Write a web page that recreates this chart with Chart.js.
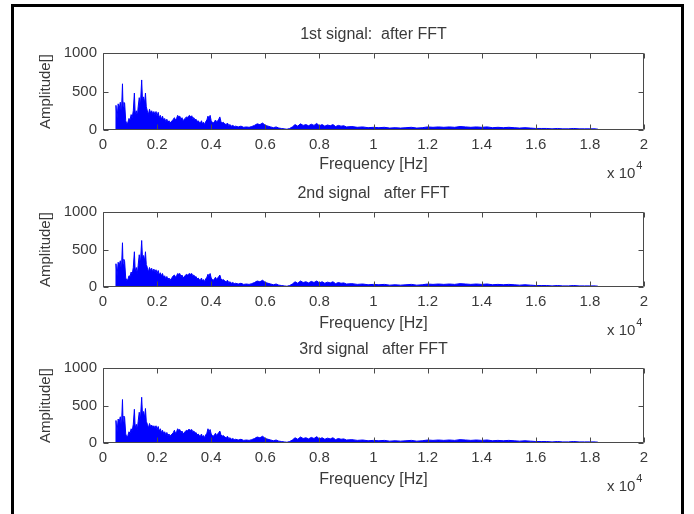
<!DOCTYPE html>
<html>
<head>
<meta charset="utf-8">
<script src="https://cdn.jsdelivr.net/npm/chart.js@4.4.1/dist/chart.umd.min.js"></script>
<style>
  html, body { margin: 0; padding: 0; background: #fff; }
  #wrap { position: relative; width: 694px; height: 514px; overflow: hidden; background: #fff; }
  #frame { position: absolute; left: 11px; top: 4px; width: 667px; height: 530px; border: 3px solid #000; }
  canvas { position: absolute; left: 0; }
</style>
</head>
<body>
<div id="wrap">
  <div id="frame"></div>
  <canvas id="c1" width="694" height="185" style="top:0px"></canvas>
  <canvas id="c2" width="694" height="185" style="top:159px"></canvas>
  <canvas id="c3" width="694" height="185" style="top:315px"></canvas>
</div>
<script>
// ---- data ----
const titles = ['1st signal:  after FFT', '2nd signal   after FFT', '3rd signal   after FFT'];
const xAxisTitle = 'Frequency [Hz]';
const yAxisTitle = 'Amplitude[]';
const xTickLabels = ['0','0.2','0.4','0.6','0.8','1','1.2','1.4','1.6','1.8','2'];
const yTickValues = [0, 500, 1000];
const yTickLabels = ['0', '500', '1000'];
const expLabel = 'x 10';
const expPower = '4';

const freqs = [
  0,450,480,520,560,600,640,680,720,740,
  770,800,840,880,920,960,1000,1040,1080,1120,
  1160,1190,1230,1270,1300,1340,1380,1430,1460,1500,
  1540,1570,1600,1640,1680,1720,1760,1800,1840,1880,
  1920,1960,2000,2040,2080,2120,2160,2200,2240,2280,
  2320,2360,2400,2440,2480,2520,2560,2600,2640,2680,
  2720,2760,2800,2840,2880,2920,2960,3000,3040,3080,
  3120,3160,3200,3240,3280,3320,3360,3400,3440,3480,
  3520,3560,3600,3640,3680,3720,3760,3800,3840,3880,
  3920,3960,4000,4040,4080,4120,4160,4200,4240,4280,
  4320,4360,4400,4450,4500,4550,4600,4650,4700,4750,
  4800,4850,4900,5000,5100,5200,5300,5400,5500,5600,
  5700,5800,5900,6000,6100,6200,6300,6400,6500,6600,
  6700,6800,6900,7000,7100,7200,7300,7400,7500,7600,
  7700,7800,7900,8000,8100,8200,8300,8400,8500,8600,
  8700,8800,8900,9000,9200,9400,9600,9800,10000,10200,
  10400,10600,10800,11000,11200,11400,11600,11800,12000,12200,
  12400,12600,12800,13000,13200,13400,13600,13800,14000,14200,
  14400,14600,14800,15000,15200,15400,15600,15800,16000,16200,
  16400,16600,16800,17000,17200,17400,17600,17800,18000,18200,18300
];

const amp1 = [
  4,4,320,150,340,280,360,200,600,300,
  360,350,120,80,100,150,130,200,160,250,
  480,200,250,180,300,420,300,650,380,430,
  350,480,300,250,200,270,220,250,210,240,
  200,240,180,230,160,190,140,180,130,150,
  110,140,100,120,90,110,120,140,160,130,
  150,190,170,180,140,160,120,140,150,170,
  160,180,190,170,185,150,160,130,140,110,
  120,100,90,120,80,100,70,110,130,180,
  150,190,120,100,90,110,130,100,120,140,
  170,110,90,100,80,70,90,60,70,50,
  60,45,50,40,50,35,40,35,45,60,
  80,70,90,60,50,40,30,40,25,20,
  15,10,20,40,70,50,80,60,70,55,
  75,60,85,55,70,50,65,55,70,45,
  60,50,55,40,45,35,40,30,35,30,
  35,25,30,25,30,35,25,30,40,35,
  40,35,40,35,45,40,35,40,35,40,
  30,35,30,35,30,25,30,25,20,20,
  20,15,20,15,15,20,15,15,15,15,10
];

const amp2 = [
  4,4,310,150,330,290,350,210,590,300,
  370,340,120,90,100,150,140,200,170,260,
  470,210,260,180,290,430,300,620,380,420,
  350,470,300,260,200,260,220,250,200,240,
  200,230,180,220,160,190,150,180,130,150,
  110,140,100,120,90,110,130,150,160,130,
  150,180,170,180,140,160,120,140,150,170,
  160,170,180,170,180,150,160,130,140,110,
  120,100,90,120,80,100,70,110,130,170,
  150,180,120,100,90,110,130,100,120,140,
  160,110,90,100,80,70,90,60,70,50,
  60,45,50,40,50,35,40,35,45,60,
  80,70,90,60,50,40,30,40,25,20,
  15,10,20,40,70,50,80,60,70,55,
  75,60,80,55,70,50,65,55,70,45,
  60,50,55,40,45,35,40,30,35,30,
  35,25,30,25,30,35,25,30,40,35,
  40,35,40,35,45,40,35,40,35,40,
  30,35,30,35,30,25,30,25,20,20,
  20,15,20,15,15,20,15,15,15,15,10
];

const amp3 = [
  4,4,300,150,320,280,350,200,580,290,
  360,340,120,80,100,150,130,190,160,250,
  450,200,250,180,290,410,300,610,370,420,
  340,460,290,250,200,260,220,240,210,230,
  200,230,180,220,160,190,140,170,130,150,
  110,140,100,120,90,110,120,140,170,130,
  150,190,170,180,140,160,120,140,150,170,
  160,180,180,170,180,150,160,130,140,110,
  120,100,90,120,80,100,70,110,130,190,
  150,180,120,100,90,110,130,100,120,140,
  160,110,90,100,80,70,90,60,70,50,
  60,45,50,40,50,35,40,35,45,60,
  80,70,90,60,50,40,30,40,25,20,
  15,10,20,40,70,50,80,60,70,55,
  75,60,85,55,70,50,65,55,70,45,
  60,50,55,40,45,35,40,30,35,30,
  35,25,30,25,30,35,25,30,40,35,
  40,35,40,35,45,40,35,40,35,40,
  30,35,30,35,30,25,30,25,20,20,
  20,15,20,15,15,20,15,15,15,15,10
];

const series = [amp1, amp2, amp3];

// ---- drawing ----
const TEXT = '#3a3a3a';
const BOX = '#4a4a4a';
const FONT = "'Liberation Sans', Arial, sans-serif";

const boxPlugin = {
  id: 'matlabBox',
  afterDatasetsDraw(chart) {
    const {ctx, chartArea: a, scales: {x, y}} = chart;
    ctx.save();
    ctx.strokeStyle = BOX;
    ctx.lineWidth = 1;
    const L = Math.round(a.left) + 0.5, R = Math.round(a.right) - 0.5;
    const T = Math.round(a.top) + 0.5, B = Math.round(a.bottom) - 0.5;
    ctx.beginPath();
    ctx.rect(L, T, R - L, B - T);
    const tl = 5;
    x.ticks.forEach(t => {
      const px = Math.round(x.getPixelForValue(t.value)) + 0.5;
      ctx.moveTo(px, B); ctx.lineTo(px, B - tl);
      ctx.moveTo(px, T); ctx.lineTo(px, T + tl);
    });
    y.ticks.forEach(t => {
      const py = Math.round(y.getPixelForValue(t.value)) + 0.5;
      ctx.moveTo(L, py); ctx.lineTo(L + tl, py);
      ctx.moveTo(R, py); ctx.lineTo(R - tl, py);
    });
    ctx.stroke();
    ctx.fillStyle = TEXT;
    ctx.textBaseline = 'middle';
    // subplot title, centred over the plot box
    ctx.textAlign = 'center';
    ctx.font = '16px ' + FONT;
    ctx.fillText(chart.options.plugins.subTitle.text, (a.left + a.right) / 2, a.top - 18);
    // exponent label
    ctx.textAlign = 'left';
    ctx.font = '15px ' + FONT;
    const ex = a.right - 37, ey = a.bottom + 44;
    ctx.fillText(expLabel, ex, ey);
    const w = ctx.measureText(expLabel).width;
    ctx.font = '11px ' + FONT;
    ctx.fillText(expPower, ex + w + 1, ey - 8);
    ctx.restore();
  }
};

function makeChart(id, idx, xHeight) {
  const amps = series[idx];
  const pts = freqs.map((f, i) => ({x: f, y: amps[i]}));
  new Chart(document.getElementById(id), {
    type: 'line',
    data: {
      datasets: [{
        data: pts,
        borderColor: '#0000ff',
        backgroundColor: '#0000ff',
        borderWidth: 1,
        fill: 'origin',
        pointRadius: 0,
        tension: 0
      }]
    },
    options: {
      responsive: false,
      animation: false,
      events: [],
      layout: { padding: { left: 0, right: 50, top: 53, bottom: 0 } },
      plugins: {
        legend: { display: false },
        tooltip: { enabled: false },
        title: { display: false },
        subTitle: { text: titles[idx] }
      },
      scales: {
        x: {
          type: 'linear',
          min: 0, max: 20000,
          afterFit: s => { s.height = xHeight; },
          afterBuildTicks: s => { s.ticks = xTickLabels.map((_, i) => ({value: i * 2000})); },
          grid: { display: false, drawTicks: false },
          border: { display: false },
          ticks: {
            autoSkip: false, maxRotation: 0, padding: 6,
            color: TEXT, font: { family: FONT, size: 15 },
            callback: (v) => xTickLabels[Math.round(v / 2000)]
          },
          title: {
            display: true, text: xAxisTitle, color: TEXT,
            font: { family: FONT, size: 16 },
            padding: { top: 0, bottom: 11 }
          }
        },
        y: {
          min: 0, max: 1000,
          afterFit: s => { s.width = 103; },
          afterBuildTicks: s => { s.ticks = yTickValues.map(v => ({value: v})); },
          grid: { display: false, drawTicks: false },
          border: { display: false },
          ticks: {
            padding: 6, color: TEXT, font: { family: FONT, size: 15 },
            callback: (v) => yTickLabels[yTickValues.indexOf(v)]
          },
          title: {
            display: true, text: yAxisTitle, color: TEXT,
            font: { family: FONT, size: 15 },
            padding: { top: 37, bottom: 0 }
          }
        }
      }
    },
    plugins: [boxPlugin]
  });
}

makeChart('c1', 0, 55);
makeChart('c2', 1, 57);
makeChart('c3', 2, 57);
</script>
</body>
</html>
